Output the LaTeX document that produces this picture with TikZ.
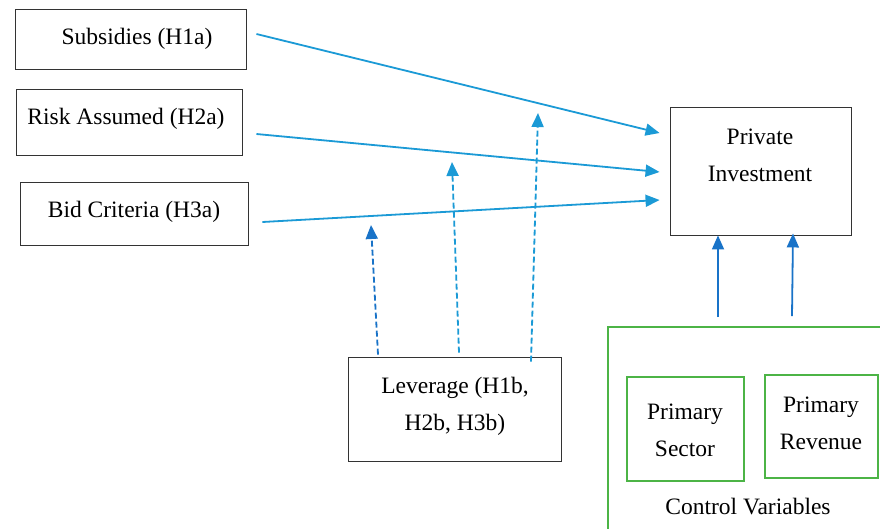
\documentclass[tikz,border=0pt]{standalone}
\usepackage{fontspec}
\setmainfont{Liberation Serif}
\usetikzlibrary{arrows.meta,calc}
\definecolor{lblue}{RGB}{27,154,214}
\definecolor{dblue}{RGB}{25,115,200}
\definecolor{cgreen}{RGB}{76,180,70}
\begin{document}
\begin{tikzpicture}[x=1pt,y=-1pt,
  box/.style={draw=black!80,line width=0.9pt,rectangle,inner sep=0pt},
  gbox/.style={draw=cgreen,line width=1.8pt,rectangle,inner sep=0pt},
  txt/.style={font=\fontsize{23.5}{37}\selectfont,align=center,inner sep=0pt},
  arr/.style={lblue,line width=1.8pt,-{Triangle[length=14pt,width=12pt]}},
  darr/.style={arr,dashed,dash pattern=on 6pt off 3pt},
  varr/.style={dblue,line width=1.8pt,-{Triangle[length=14pt,width=12pt]}}]
\useasboundingbox (0,0) rectangle (880,528);
\fill[white] (0,0) rectangle (880,528);
% boxes
\node[box,minimum width=231pt,minimum height=60pt] (sub) at (130.5,39) {};
\node[txt] (subt) at (137,39) {Subsidies (H1a)};
\node[box,minimum width=226pt,minimum height=66pt] (risk) at (129,122) {};
\node[txt] (riskt) at (126,119) {Risk Assumed (H2a)};
\node[box,minimum width=228pt,minimum height=63pt] (bid) at (134,213.5) {};
\node[txt] (bidt) at (134,212) {Bid Criteria (H3a)};
\node[box,minimum width=181pt,minimum height=128pt] (pi) at (760.5,171) {};
\node[txt] (pit) at (760,155) {Private\\Investment};
\node[box,minimum width=213pt,minimum height=104pt] (lev) at (454.5,409) {};
\node[txt] (levt) at (455,406) {Leverage (H1b,\\H2b, H3b)};
% control variables
\node[gbox,minimum width=282pt,minimum height=213pt] (cv) at (749,433.5) {};
\node[gbox,minimum width=117pt,minimum height=104pt] (ps) at (685.5,429) {};
\node[txt] (pst) at (685,430) {Primary\\Sector};
\node[gbox,minimum width=113pt,minimum height=103pt] (pr) at (821.5,426.5) {};
\node[txt] (prt) at (821,423) {Primary\\Revenue};
\node[txt] (cvt) at (748,507) {Control Variables};
% solid arrows
\draw[arr] ($(sub.east)+(10,-5)$) -- ($(pi.west)+(-10,-38)$);
\draw[arr] ($(risk.east)+(14,12)$) -- ($(pi.west)+(-10,1)$);
\draw[arr] ($(bid.east)+(14,8.5)$) -- ($(pi.west)+(-10,29)$);
% dashed moderation arrows
\coordinate (m1) at (371,225);
\coordinate (m2) at (452,162);
\coordinate (m3) at (538,113);
\draw[darr,dblue] ($(lev.north)+(-76.5,-2)$) -- (m1);
\draw[darr] ($(lev.north)+(4.5,-4)$) -- (m2);
\draw[darr] ($(lev.north)+(76.5,5)$) -- (m3);
% control arrows
\draw[varr] ($(cv.north)+(-31,-9)$) -- ($(pi.south)+(-42.5,0)$);
\draw[varr] ($(cv.north)+(43,-10)$) -- ($(pi.south)+(32.5,-2)$);
\end{tikzpicture}
\end{document}
